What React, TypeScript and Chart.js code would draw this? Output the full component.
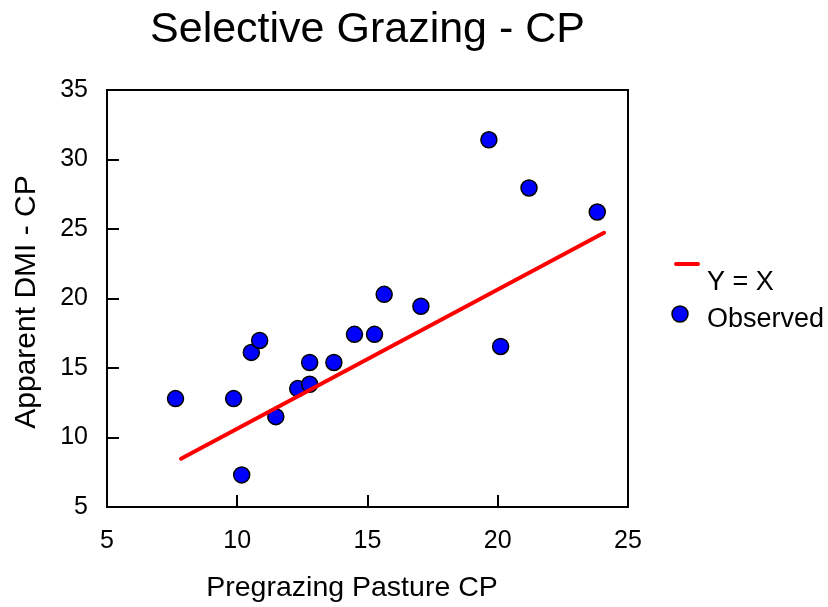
import React, { useEffect, useRef } from "react";
import { Chart, registerables } from "chart.js";

Chart.register(...registerables);

const titleText = "Selective Grazing - CP";
const xTitle = "Pregrazing Pasture CP";
const yTitle = "Apparent DMI - CP";

const xTicks = [5, 10, 15, 20, 25];
const yTicks = [5, 10, 15, 20, 25, 30, 35];

const lineX = [7.84, 24.08];
const lineY = [8.47, 24.73];

const obsX = [7.63, 9.86, 10.17, 10.54, 10.86, 11.48, 12.32, 12.78, 12.78, 13.71, 14.5, 15.27, 15.64, 17.05, 19.66, 20.11, 21.2, 23.82];
const obsY = [12.8, 12.8, 7.31, 16.12, 16.98, 11.5, 13.52, 13.83, 15.4, 15.4, 17.42, 17.42, 20.3, 19.44, 31.42, 16.55, 27.95, 26.22];

const legendLabels = ["Y = X", "Observed"];

const FONT = "'Liberation Sans', Arial, Helvetica, sans-serif";

const decorPlugin = {
  id: "decor",
  afterDraw(chart: any) {
    const ctx = chart.ctx;
    const { left, right, top, bottom } = chart.chartArea;
    const xs = chart.scales.x;
    const ys = chart.scales.y;
    ctx.save();
    // frame
    ctx.strokeStyle = "#000";
    ctx.lineWidth = 2;
    ctx.strokeRect(left, top, right - left, bottom - top);
    // inward ticks
    ctx.lineWidth = 2;
    xTicks.slice(1, -1).forEach((v) => {
      const px = Math.round(xs.getPixelForValue(v));
      ctx.beginPath();
      ctx.moveTo(px, bottom);
      ctx.lineTo(px, bottom - 12);
      ctx.stroke();
    });
    yTicks.slice(1, -1).forEach((v) => {
      const py = Math.round(ys.getPixelForValue(v));
      ctx.beginPath();
      ctx.moveTo(left, py);
      ctx.lineTo(left + 12, py);
      ctx.stroke();
    });
    // title
    ctx.fillStyle = "#000";
    ctx.textAlign = "center";
    ctx.textBaseline = "middle";
    ctx.font = `43px ${FONT}`;
    ctx.fillText(titleText, (left + right) / 2, 30);
    // x title
    ctx.font = `28.5px ${FONT}`;
    ctx.fillText(xTitle, 352, 588);
    // y title
    ctx.save();
    ctx.translate(27, 302);
    ctx.rotate(-Math.PI / 2);
    ctx.font = `30px ${FONT}`;
    ctx.fillText(yTitle, 0, 0);
    ctx.restore();
    // legend
    ctx.strokeStyle = "#ff0000";
    ctx.lineWidth = 4;
    ctx.lineCap = "round";
    ctx.beginPath();
    ctx.moveTo(676, 264);
    ctx.lineTo(698, 264);
    ctx.stroke();
    ctx.font = `27px ${FONT}`;
    ctx.textAlign = "left";
    ctx.fillStyle = "#000";
    ctx.fillText(legendLabels[0], 707, 283);
    ctx.beginPath();
    ctx.arc(680, 314, 8, 0, Math.PI * 2);
    ctx.fillStyle = "#0000ff";
    ctx.fill();
    ctx.lineWidth = 1.5;
    ctx.strokeStyle = "#000";
    ctx.stroke();
    ctx.fillStyle = "#000";
    ctx.fillText(legendLabels[1], 707, 320);
    ctx.restore();
  },
};

export default function App() {
  const ref = useRef<HTMLCanvasElement>(null);
  useEffect(() => {
    if (!ref.current) return;
    const chart = new Chart(ref.current, {
      type: "scatter",
      data: {
        datasets: [
          {
            type: "line",
            label: legendLabels[0],
            data: lineX.map((x, i) => ({ x, y: lineY[i] })),
            borderColor: "#ff0000",
            borderWidth: 4,
            pointRadius: 0,
            showLine: true,
            fill: false,
            borderCapStyle: "round",
          } as any,
          {
            type: "scatter",
            label: legendLabels[1],
            data: obsX.map((x, i) => ({ x, y: obsY[i] })),
            backgroundColor: "#0000ff",
            borderColor: "#000",
            borderWidth: 1.5,
            pointRadius: 8,
          },
        ],
      },
      options: {
        animation: false,
        responsive: false,
        layout: { padding: { top: 90, right: 200, left: 0, bottom: 0 } },
        plugins: {
          legend: { display: false },
          title: { display: false },
          tooltip: { enabled: false },
        },
        scales: {
          x: {
            type: "linear",
            min: 5,
            max: 25,
            afterFit: (s: any) => {
              s.height = 100;
            },
            afterBuildTicks: (s: any) => {
              s.ticks = xTicks.map((v) => ({ value: v }));
            },
            grid: { display: false, drawTicks: false },
            border: { display: false },
            ticks: {
              color: "#000",
              font: { family: FONT, size: 25 },
              padding: 19,
              maxRotation: 0,
            },
          },
          y: {
            type: "linear",
            min: 5,
            max: 35,
            afterFit: (s: any) => {
              s.width = 107;
            },
            afterBuildTicks: (s: any) => {
              s.ticks = yTicks.map((v) => ({ value: v }));
            },
            grid: { display: false, drawTicks: false },
            border: { display: false },
            ticks: {
              color: "#000",
              font: { family: FONT, size: 25 },
              padding: 19,
            },
          },
        },
      },
      plugins: [decorPlugin],
    });
    return () => chart.destroy();
  }, []);
  return (
    <div style={{ position: "absolute", left: 0, top: 0, width: 828, height: 607, background: "#fff" }}>
      <canvas ref={ref} width={828} height={607} />
    </div>
  );
}
